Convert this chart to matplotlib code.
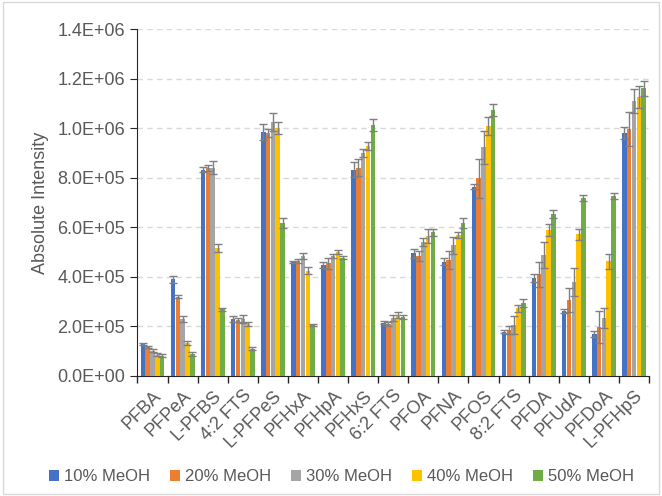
import numpy as np
import matplotlib
matplotlib.use("Agg")
from matplotlib import pyplot as plt
from matplotlib.patches import Rectangle

plt.rcParams['font.family'] = ['Liberation Sans', 'DejaVu Sans']

compounds = ['PFBA', 'PFPeA', 'L-PFBS', '4:2 FTS', 'L-PFPeS', 'PFHxA', 'PFHpA', 'PFHxS',
             '6:2 FTS', 'PFOA', 'PFNA', 'PFOS', '8:2 FTS', 'PFDA', 'PFUdA', 'PFDoA', 'L-PFHpS']
series = ['10% MeOH', '20% MeOH', '30% MeOH', '40% MeOH', '50% MeOH']
colors = ['#4472C4', '#ED7D31', '#A5A5A5', '#FFC000', '#70AD47']

meoh10 = [129e3, 390e3, 833e3, 229e3, 985e3, 458e3, 448e3, 833e3, 215e3, 495e3, 461e3, 764e3, 179e3, 397e3, 263e3, 169e3, 981e3]
meoh20 = [116e3, 320e3, 840e3, 226e3, 979e3, 464e3, 454e3, 841e3, 208e3, 484e3, 468e3, 797e3, 185e3, 410e3, 306e3, 199e3, 996e3]
meoh30 = [102e3, 229e3, 841e3, 231e3, 1025e3, 484e3, 485e3, 900e3, 233e3, 542e3, 528e3, 922e3, 206e3, 488e3, 380e3, 235e3, 1110e3]
meoh40 = [86e3, 134e3, 517e3, 210e3, 999e3, 425e3, 501e3, 927e3, 246e3, 565e3, 569e3, 1008e3, 273e3, 589e3, 571e3, 462e3, 1126e3]
meoh50 = [81e3, 89e3, 269e3, 110e3, 616e3, 206e3, 478e3, 1012e3, 237e3, 579e3, 616e3, 1073e3, 293e3, 653e3, 719e3, 726e3, 1160e3]

err10 = [5e3, 15e3, 11e3, 11e3, 32e3, 4e3, 13e3, 30e3, 7e3, 19e3, 13e3, 9e3, 7e3, 16e3, 7e3, 13e3, 23e3]
err20 = [5e3, 7e3, 13e3, 9e3, 16e3, 7e3, 21e3, 34e3, 8e3, 19e3, 35e3, 79e3, 16e3, 51e3, 47e3, 65e3, 70e3]
err30 = [5e3, 11e3, 25e3, 16e3, 38e3, 13e3, 8e3, 16e3, 11e3, 16e3, 34e3, 65e3, 35e3, 51e3, 56e3, 40e3, 47e3]
err40 = [6e3, 8e3, 17e3, 7e3, 24e3, 15e3, 9e3, 17e3, 13e3, 27e3, 11e3, 36e3, 13e3, 23e3, 23e3, 32e3, 44e3]
err50 = [6e3, 7e3, 5e3, 5e3, 20e3, 5e3, 8e3, 23e3, 8e3, 16e3, 20e3, 24e3, 16e3, 16e3, 11e3, 11e3, 30e3]

yticks = [0, 2e5, 4e5, 6e5, 8e5, 1e6, 1.2e6, 1.4e6]
ytick_labels = ['0.0E+00', '2.0E+05', '4.0E+05', '6.0E+05', '8.0E+05', '1.0E+06', '1.2E+06', '1.4E+06']

values = [meoh10, meoh20, meoh30, meoh40, meoh50]
errors = [err10, err20, err30, err40, err50]

fig = plt.figure(figsize=(6.62, 4.96), dpi=100)
ax = fig.add_axes([0.2077, 0.242, 0.7727, 0.6995])
fig.patches.append(Rectangle((0.004, 0.004), 0.992, 0.992, transform=fig.transFigure,
                             fill=False, edgecolor='#d9d9d9', linewidth=1))

x = np.arange(len(compounds))
w = 0.16
for i in range(5):
    pos = x + (i - 2) * w
    ax.bar(pos, values[i], w * 0.95, color=colors[i], label=series[i], zorder=3)
    ax.errorbar(pos, values[i], yerr=errors[i], fmt='none', ecolor='#7f7f7f',
                elinewidth=1, capsize=3, capthick=1, zorder=4)

ax.set_ylim(0, 1.4e6)
ax.set_xlim(-0.5, len(compounds) - 0.5)
ax.set_yticks(yticks)
ax.set_yticklabels(ytick_labels)
ax.yaxis.grid(True, color='#d9d9d9', linestyle=(0, (4, 3)), linewidth=1, zorder=0)
ax.set_axisbelow(True)

ax.set_xticks(x)
ax.set_xticklabels(compounds, rotation=45, ha='right', rotation_mode='anchor')
ax.set_xticks(np.arange(-0.5, len(compounds)), minor=True)
ax.tick_params(axis='x', which='major', length=0, labelsize=13, colors='#595959', pad=8)
ax.tick_params(axis='x', which='minor', length=5, color='#262626', width=1)
ax.tick_params(axis='y', length=5, labelsize=13, labelcolor='#595959', color='#262626', pad=4)

for s in ['top', 'right']:
    ax.spines[s].set_visible(False)
ax.spines['left'].set_color('#262626')
ax.spines['bottom'].set_color('#262626')

ax.set_ylabel('Absolute Intensity', fontsize=13, color='#595959', labelpad=6)

ax.legend(loc='center', bbox_to_anchor=(0.399, -0.291), ncol=5, frameon=False,
          fontsize=12, labelcolor='#595959', handlelength=0.6, handleheight=0.6,
          handletextpad=0.3, columnspacing=1.2)

fig.savefig('out.png', dpi=100)
